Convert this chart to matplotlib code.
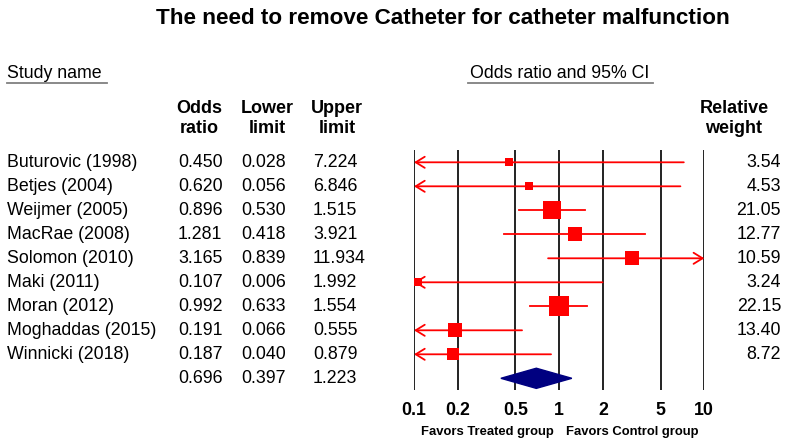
import numpy as np
import matplotlib
matplotlib.use("Agg")
import matplotlib.pyplot as plt
from matplotlib.lines import Line2D
from matplotlib.transforms import blended_transform_factory

plt.rcParams["font.family"] = ["Liberation Sans", "DejaVu Sans"]

# donnees
studies = ["Buturovic (1998)", "Betjes (2004)", "Weijmer (2005)", "MacRae (2008)",
           "Solomon (2010)", "Maki (2011)", "Moran (2012)", "Moghaddas (2015)",
           "Winnicki (2018)"]
odds = [0.450, 0.620, 0.896, 1.281, 3.165, 0.107, 0.992, 0.191, 0.187]
lower = [0.028, 0.056, 0.530, 0.418, 0.839, 0.006, 0.633, 0.066, 0.040]
upper = [7.224, 6.846, 1.515, 3.921, 11.934, 1.992, 1.554, 0.555, 0.879]
weights = [3.54, 4.53, 21.05, 12.77, 10.59, 3.24, 22.15, 13.40, 8.72]
pooled = [0.696, 0.397, 1.223]
ticks = [0.1, 0.2, 0.5, 1, 2, 5, 10]
tick_labels = ["0.1", "0.2", "0.5", "1", "2", "5", "10"]

W, H = 789, 448
fs = 12.8
fig = plt.figure(figsize=(W / 100, H / 100), dpi=100)

# axe du forest plot (pixels 414..704 en x, 150..390 en y)
ax = fig.add_axes([414 / W, 1 - 390 / H, (704.3 - 414) / W, 240 / H])
ax.set_xscale("log")
ax.set_xlim(0.1, 10)
y_top = -12.3 / 24
y_bot = (390 - 162.3) / 24
ax.set_ylim(y_bot, y_top)
for s in ax.spines.values():
    s.set_visible(False)
ax.set_yticks([])
ax.vlines(ticks, y_bot, y_top, color="#111111", lw=1.3, zorder=1)
ax.set_xticks(ticks)
ax.set_xticklabels(tick_labels, fontsize=12.8, fontweight="bold")
ax.xaxis.set_minor_locator(plt.NullLocator())
ax.tick_params(axis="x", length=0, pad=8.5)

red = "#ff0000"
for i in range(len(studies)):
    lo_c = max(lower[i], 0.1)
    hi_c = min(upper[i], 10)
    if lower[i] < 0.1:
        ax.annotate("", xy=(0.1, i), xytext=(hi_c, i),
                    arrowprops=dict(arrowstyle="->,head_length=0.65,head_width=0.4",
                                    color=red, lw=1.3, shrinkA=0, shrinkB=0), zorder=2)
    elif upper[i] > 10:
        ax.annotate("", xy=(10, i), xytext=(lo_c, i),
                    arrowprops=dict(arrowstyle="->,head_length=0.65,head_width=0.4",
                                    color=red, lw=1.3, shrinkA=0, shrinkB=0), zorder=2)
    else:
        ax.plot([lo_c, hi_c], [i, i], color=red, lw=1.3, zorder=2)
    side = 4.05 * np.sqrt(weights[i]) * 0.72
    ax.plot(odds[i], i, marker="s", markersize=side, color=red, markeredgewidth=0, zorder=3)

ys = len(studies)
h = 0.42
ax.fill([pooled[1], pooled[0], pooled[2], pooled[0]], [ys, ys - h, ys, ys + h],
        color="#000080", zorder=3)

# texte du tableau
def fx(px):
    return px / W

def fy(py):
    return 1 - py / H

fig.text(fx(443), fy(19), "The need to remove Catheter for catheter malfunction",
         fontsize=16.2, fontweight="bold", ha="center", va="center")

fig.text(fx(7), fy(74), "Study name", fontsize=fs, ha="left", va="center")
fig.add_artist(Line2D([fx(7), fx(107)], [fy(83.5), fy(83.5)], color="#808080", lw=1.3))
fig.text(fx(560), fy(74), "Odds ratio and 95% CI", fontsize=fs, ha="center", va="center")
fig.add_artist(Line2D([fx(468), fx(653)], [fy(83.5), fy(83.5)], color="#808080", lw=1.3))

for x, lab in [(199, "Odds\nratio"), (267, "Lower\nlimit"), (337, "Upper\nlimit"),
               (734, "Relative\nweight")]:
    fig.text(fx(x), fy(118.5), lab, fontsize=13, fontweight="bold", ha="center",
             va="center", linespacing=1.3)

bt = blended_transform_factory(fig.transFigure, ax.transData)
for i in range(len(studies)):
    ax.text(fx(7), i, studies[i], transform=bt, fontsize=fs, va="center", ha="left")
    ax.text(fx(178), i, "%.3f" % odds[i], transform=bt, fontsize=fs, va="center")
    ax.text(fx(241), i, "%.3f" % lower[i], transform=bt, fontsize=fs, va="center")
    ax.text(fx(313), i, "%.3f" % upper[i], transform=bt, fontsize=fs, va="center")
    ax.text(fx(781), i, "%.2f" % weights[i], transform=bt, fontsize=fs, va="center",
            ha="right")
ax.text(fx(178), ys, "%.3f" % pooled[0], transform=bt, fontsize=fs, va="center")
ax.text(fx(241), ys, "%.3f" % pooled[1], transform=bt, fontsize=fs, va="center")
ax.text(fx(313), ys, "%.3f" % pooled[2], transform=bt, fontsize=fs, va="center")

fig.text(fx(487), fy(432), "Favors Treated group", fontsize=9.4, fontweight="bold",
         ha="center", va="center")
fig.text(fx(632), fy(432), "Favors Control group", fontsize=9.4, fontweight="bold",
         ha="center", va="center")

fig.savefig("out.png", dpi=100)
